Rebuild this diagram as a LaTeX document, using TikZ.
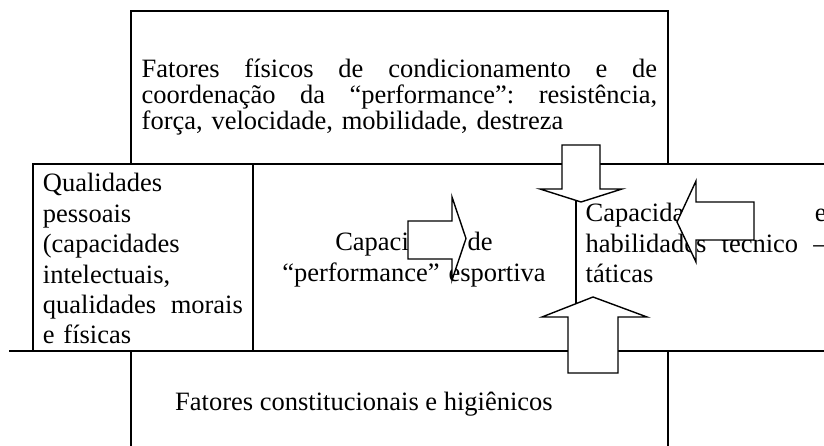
\documentclass[tikz,border=0pt]{standalone}
\usepackage{fontspec}
\setmainfont{Liberation Serif}
\newcommand{\jline}[2]{\leavevmode\hbox to #1{#2}}
\begin{document}
\begin{tikzpicture}[x=1bp,y=-1bp,
  frame/.style={line width=2bp, line cap=rect},
  txt/.style={inner sep=0pt, font=\fontsize{26.5bp}{30.4bp}\selectfont},
  blockarrow/.style={draw=black, fill=white, line width=1.4bp, line join=miter}]
\useasboundingbox (0,0) rectangle (824,446);
% frame lines
\draw[frame] (131,164) -- (131,11) -- (668,11) -- (668,164);
\draw[frame] (33,351) -- (33,164) -- (824,164);
\draw[frame] (253,164) -- (253,351);
\draw[frame] (576,164) -- (576,351);
\draw[frame] (10,351) -- (824,351);
\draw[frame] (131,446) -- (131,351);
\draw[frame] (668,446) -- (668,351);
% texts
\node[txt, font=\fontsize{26.5bp}{26bp}\selectfont, anchor=base west, text width=515.5bp, align=left] (ttop) at (141.5,78)
  {\jline{515.5bp}{Fatores\hfill físicos\hfill de\hfill condicionamento\hfill e\hfill de}\\
   \jline{515.5bp}{coordenação\hfill da\hfill “performance”:\hfill resistência,}\\
   força, velocidade, mobilidade, destreza};
\node[txt, anchor=base west, text width=200bp, align=left] (tleft) at (42.7,192)
  {Qualidades\\ pessoais\\ (capacidades\\ intelectuais,\\
   \jline{200bp}{qualidades\hfill morais}\\ e físicas};
\node[txt, anchor=base, text width=320bp, align=center] (tmid) at (414,251)
  {Capacidade de\\ “performance” esportiva};
\node[txt, anchor=base west, text width=241bp, align=left] (tright) at (585.5,222)
  {\jline{241bp}{Capacidades\hfill e}\\
   \jline{241bp}{habilidades\hfill técnico\hfill –}\\
   táticas};
\node[txt, anchor=base west] (tbot) at (175,410) {Fatores constitucionais e higiênicos};
% block arrows
\draw[blockarrow] (562,145) -- (600,145) -- (600,189) -- (622,189) -- (581,202) -- (540,189) -- (562,189) -- cycle;
\draw[blockarrow] (568,373) -- (618,373) -- (618,317) -- (647,317) -- (593,297) -- (542,317) -- (568,317) -- cycle;
\draw[blockarrow] (408,221) -- (452,221) -- (452,197) -- (466,238.5) -- (452,280) -- (452,259) -- (408,259) -- cycle;
\draw[blockarrow] (754,202) -- (696,202) -- (696,181) -- (677,222) -- (696,262) -- (696,240) -- (754,240) -- cycle;
\end{tikzpicture}
\end{document}
